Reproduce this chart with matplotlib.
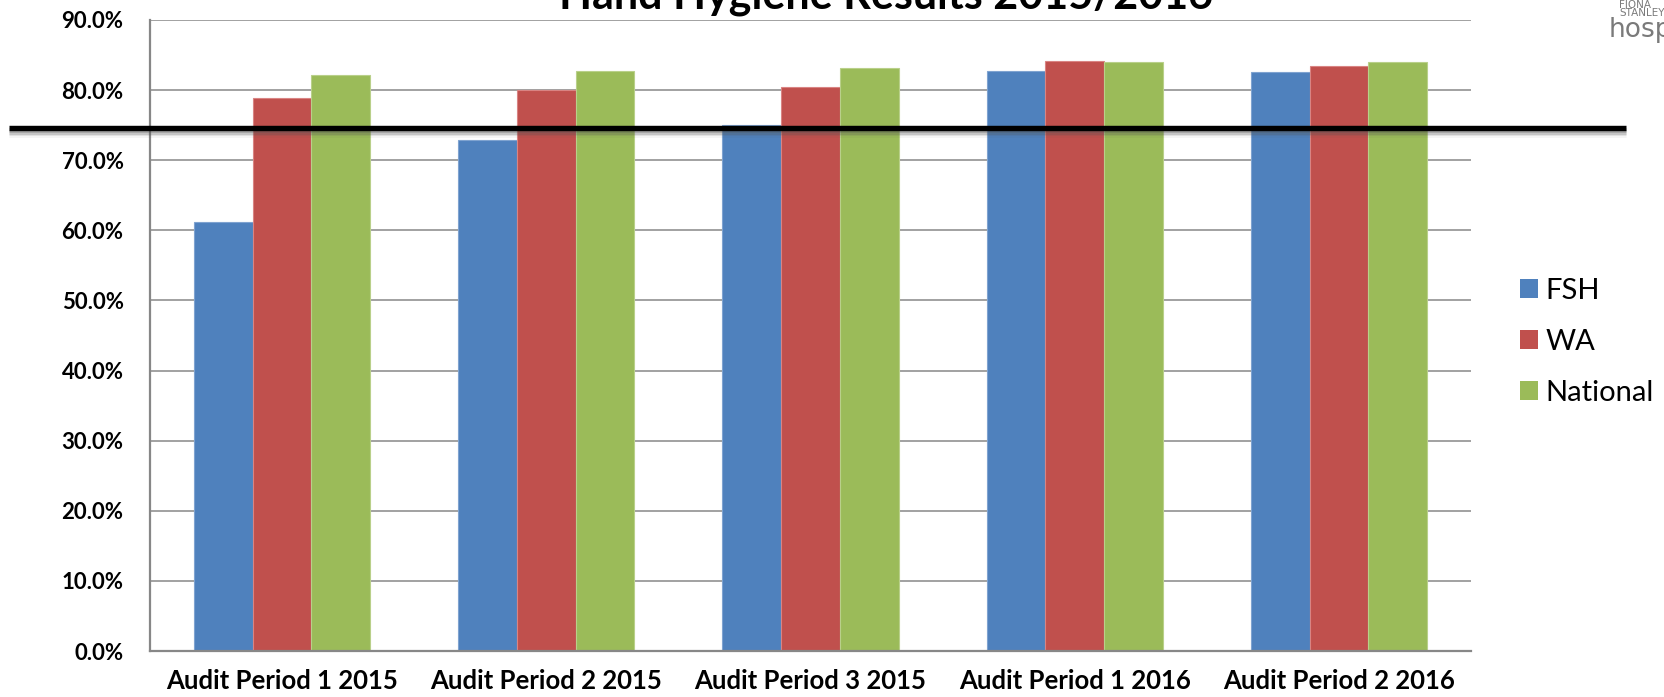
import matplotlib
matplotlib.use("Agg")
import matplotlib.pyplot as plt
import numpy as np
from matplotlib import transforms
from matplotlib.patches import Patch

# ---- data ----
categories = ["Audit Period 1 2015", "Audit Period 2 2015", "Audit Period 3 2015",
              "Audit Period 1 2016", "Audit Period 2 2016"]
series_names = ["FSH", "WA", "National"]
fsh = [61.2, 72.9, 75.0, 82.7, 82.6]
wa = [78.9, 80.0, 80.4, 84.2, 83.4]
national = [82.2, 82.7, 83.2, 84.0, 84.0]
target = 74.6
yticks = [0, 10, 20, 30, 40, 50, 60, 70, 80, 90]
title = "Hand Hygiene Results 2015/2016"

colors = ["#4F81BD", "#C0504D", "#9BBB59"]
edge_colors = ["#7FA3D0", "#D98483", "#B9D08A"]
grid_c = "#878787"

W, H = 1664, 697
fig = plt.figure(figsize=(W / 100, H / 100), dpi=100)
ax = fig.add_axes([150 / W, 1 - 651 / H, (1471 - 150) / W, (651 - 20) / H])

x = np.arange(len(categories))
bw = 1 / 4.5
for i, (vals, c, ec, name) in enumerate(zip([fsh, wa, national], colors, edge_colors, series_names)):
    ax.bar(x + (i - 1) * bw, vals, width=bw, color=c, edgecolor=ec, linewidth=0.8,
           label=name, zorder=3)

ax.set_xlim(-0.5, len(categories) - 0.5)
ax.set_ylim(0, 90)
ax.set_yticks(yticks)
ax.set_yticklabels([f"{v:.1f}%" for v in yticks], fontfamily="Lato", fontweight="bold", fontsize=16)
ax.set_xticks(x)
ax.set_xticklabels(categories, fontfamily="Lato", fontweight="bold", fontsize=18.5)
ax.tick_params(axis="both", length=0)
ax.tick_params(axis="y", pad=19)
ax.tick_params(axis="x", pad=13)
ax.yaxis.grid(True, color=grid_c, linewidth=1.1, zorder=0)
ax.set_axisbelow(True)
for s in ["top", "right"]:
    ax.spines[s].set_visible(False)
for s in ["left", "bottom"]:
    ax.spines[s].set_color(grid_c)
    ax.spines[s].set_linewidth(1.6)
    ax.spines[s].set_zorder(4)

# target line with soft shadow
xmin = (8.5 - 150) / (1471 - 150)
xmax = (1626 - 150) / (1471 - 150)
for off, a in [(2.5, 0.30), (4.0, 0.20), (5.5, 0.12), (7.0, 0.06)]:
    tr = transforms.offset_copy(ax.get_yaxis_transform(), fig=fig, x=0, y=-off * 0.72, units="points")
    ax.plot([xmin, xmax], [target, target], transform=tr, color="#555555", alpha=a,
            linewidth=3.6, clip_on=False, zorder=5, solid_capstyle="butt")
ax.plot([xmin, xmax], [target, target], transform=ax.get_yaxis_transform(), color="black",
        linewidth=3.9, clip_on=False, zorder=6, solid_capstyle="butt")

# legend
handles = [Patch(facecolor=c, edgecolor="none") for c in colors]
leg = fig.legend(handles, series_names, loc="center left",
                 bbox_to_anchor=(1520 / W, 1 - 342 / H), frameon=False,
                 prop={"family": "Lato", "size": 21}, handlelength=0.62, handleheight=0.62,
                 handletextpad=0.25, labelspacing=0.85, borderpad=0, borderaxespad=0)

# title (cut off at top as in source)
fig.text(886 / W, 1 - 8 / H, title, ha="center", va="baseline", fontfamily="Lato",
         fontweight="bold", fontsize=31, color="black")

# logo fragment, top right
fig.text(1619 / W, 1 - 8.5 / H, "FIONA", fontsize=7.5, color="#7a7a7a", fontfamily="DejaVu Sans", va="baseline")
fig.text(1619 / W, 1 - 16.5 / H, "STANLEY", fontsize=7.5, color="#7a7a7a", fontfamily="DejaVu Sans", va="baseline")
fig.text(1609 / W, 1 - 37 / H, "hospital", fontsize=19, color="#7a7a7a", fontfamily="DejaVu Sans", va="baseline")

fig.savefig("out.png", dpi=100)
